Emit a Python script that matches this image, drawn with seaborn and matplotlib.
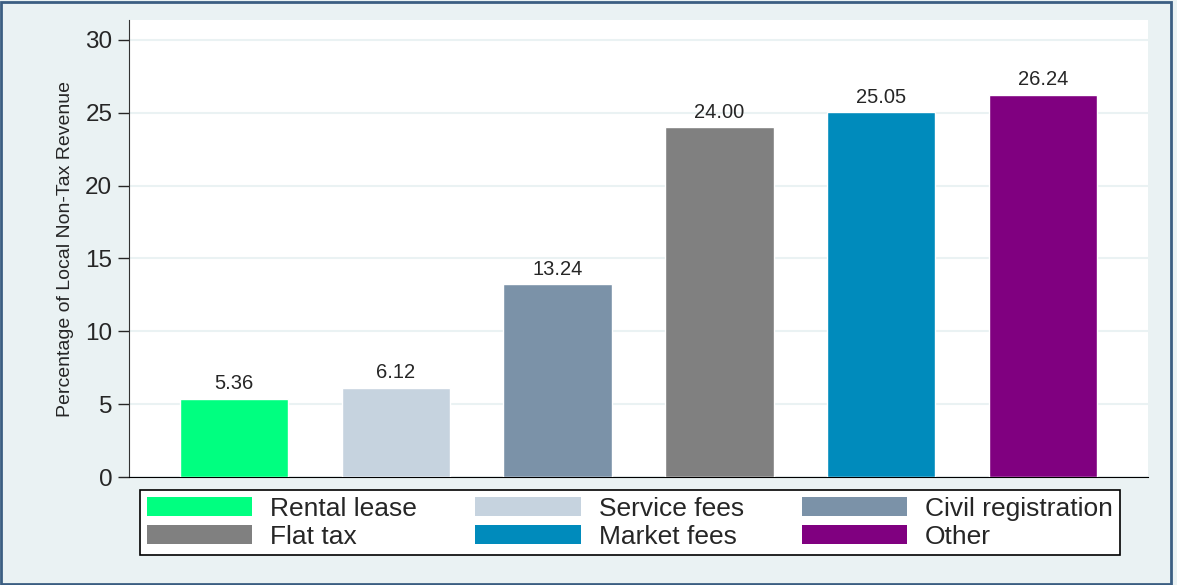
import matplotlib.pyplot as plt
import matplotlib.patches as mpatches
import pandas as pd
import seaborn as sns

# data
categories = ['Rental lease', 'Service fees', 'Civil registration', 'Flat tax', 'Market fees', 'Other']
shares = [5.36, 6.12, 13.24, 24.00, 25.05, 26.24]
bar_colors = ['#00FF80', '#C6D3DF', '#7B92A8', '#808080', '#008BBC', '#800080']
yticks = [0, 5, 10, 15, 20, 25, 30]

df = pd.DataFrame({'source': categories, 'pct': shares})
pal = dict(zip(categories, bar_colors))

bg = '#EAF2F3'
sns.set_style('white')
plt.rcParams['font.family'] = ['Liberation Sans', 'DejaVu Sans']

fig = plt.figure(figsize=(11.77, 5.85), dpi=100, facecolor=bg)
ax = fig.add_axes([0.1096, 0.1846, 0.8658, 0.7812])
ax.set_facecolor('white')

sns.barplot(data=df, x='source', y='pct', hue='source', palette=pal, dodge=False,
            width=0.67, saturation=1, legend=False, ax=ax, zorder=3)

for c in ax.containers:
    ax.bar_label(c, fmt='%.2f', padding=4, fontsize=14.5)

ax.set_xlim(-0.65, 5.65)
ax.set_ylim(0, 31.37)
ax.set_yticks(yticks)
ax.set_yticklabels([str(t) for t in yticks], fontsize=17.5)
ax.tick_params(axis='y', length=8, width=1, direction='out', left=True, pad=4)
ax.set_xticks([])
ax.set_xlabel('')
ax.set_ylabel('Percentage of Local Non-Tax Revenue', fontsize=14, labelpad=8)
ax.yaxis.grid(True, color=bg, linewidth=1.5, zorder=0)
for s in ['top', 'right']:
    ax.spines[s].set_visible(False)
ax.spines['left'].set_color('#333333')
ax.spines['bottom'].set_color('black')

# legend in row-major order like the reference
order = [0, 3, 1, 4, 2, 5]
handles = [mpatches.Patch(facecolor=bar_colors[i], edgecolor='none') for i in order]
labels = [categories[i] for i in order]
leg = fig.legend(handles, labels, ncol=3, loc='upper left',
                 bbox_to_anchor=(140 / 1177, 1 - 490 / 585), borderaxespad=0,
                 fontsize=19, frameon=True, fancybox=False, edgecolor='black',
                 framealpha=1, handlelength=4.0, handleheight=0.75,
                 columnspacing=2.2, handletextpad=0.68, labelspacing=0.15,
                 borderpad=0.25)
leg.get_frame().set_linewidth(1.2)

fig.patches.append(mpatches.Rectangle((0.001, 0.002), 0.994, 0.995, transform=fig.transFigure,
                                      fill=False, edgecolor='#3B5E82', linewidth=2))

fig.savefig('out.png', dpi=100, facecolor=bg)
